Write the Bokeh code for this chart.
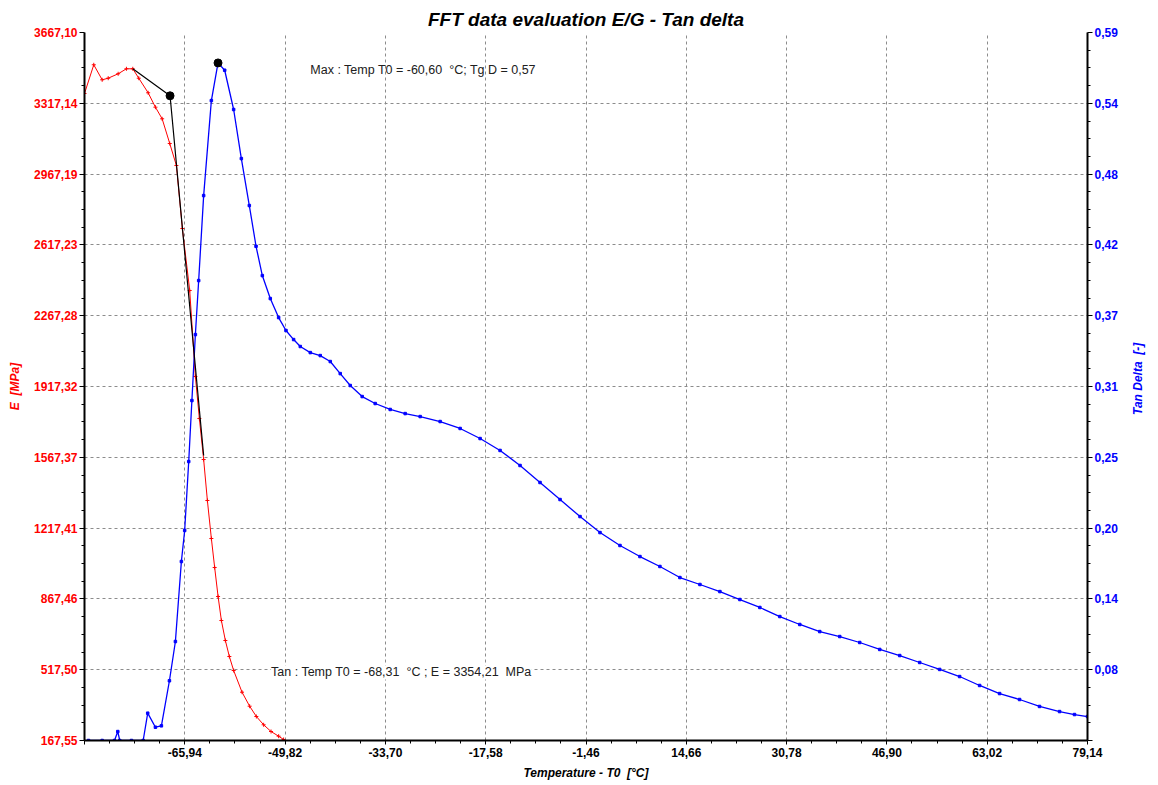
import math
from bokeh.plotting import figure
from bokeh.layouts import row
from bokeh.models import Range1d, LinearAxis, FixedTicker, Label
from bokeh.core.properties import value
from bokeh.embed import file_html
from bokeh.resources import INLINE

# ---------------- data ----------------
e_temp = [-82.06, -80.57, -79.22, -78.25, -76.65, -75.32, -74.30, -73.34, -71.83,
          -70.66, -69.58, -68.36, -67.29, -66.33, -65.15, -64.24, -63.60, -62.91,
          -62.31, -61.67, -61.14, -60.59, -60.06, -59.42, -58.78, -58.09, -56.74,
          -55.52, -54.44, -53.27, -52.08, -50.86, -50.06]
e_modulus = [3365.6, 3507.5, 3433.3, 3441.2, 3463.0, 3487.7, 3487.7, 3441.2, 3369.1,
             3297.9, 3240.5, 3118.5, 3009.7, 2698.3, 2391.9, 1966.8, 1759.2, 1556.5,
             1353.9, 1166.0, 1022.7, 879.3, 760.7, 661.8, 582.8, 513.6, 406.3,
             337.1, 286.2, 245.2, 212.0, 188.8, 172.5]

td_temp = [-81.42, -79.22, -77.24, -76.71, -76.39, -74.51, -72.63, -71.90, -70.66,
           -69.70, -68.41, -67.45, -66.49, -65.96, -65.31, -64.80, -64.24, -63.71,
           -62.91, -61.67, -60.60, -59.53, -58.09, -56.85, -55.57, -54.49, -53.48,
           -52.20, -50.86, -49.68, -48.45, -47.38, -45.77, -44.17, -42.56, -40.96,
           -39.35, -37.43, -35.34, -32.93, -30.52, -28.11, -24.90, -21.69, -18.48,
           -15.27, -12.06, -8.85, -5.63, -2.42, 0.79, 4.00, 7.21, 10.42, 13.63,
           16.85, 20.06, 23.27, 26.48, 29.69, 32.90, 36.11, 39.32, 42.53, 45.75,
           48.96, 52.17, 55.38, 58.59, 61.80, 65.01, 68.22, 71.43, 74.65, 77.05, 79.14]
tan_delta = [0.0245, 0.0245, 0.0245, 0.0317, 0.0245, 0.0245, 0.0245, 0.0465, 0.0352,
             0.0363, 0.0726, 0.1042, 0.1686, 0.1936, 0.2491, 0.2982, 0.3513, 0.3948,
             0.4632, 0.5397, 0.5700, 0.5641, 0.5325, 0.4930, 0.4552, 0.4224, 0.3988,
             0.3803, 0.3650, 0.3546, 0.3473, 0.3417, 0.3368, 0.3344, 0.3296, 0.3199,
             0.3103, 0.3014, 0.2958, 0.2910, 0.2877, 0.2853, 0.2813, 0.2757, 0.2676,
             0.2580, 0.2459, 0.2322, 0.2185, 0.2048, 0.1919, 0.1815, 0.1726, 0.1646,
             0.1557, 0.1501, 0.1444, 0.1380, 0.1316, 0.1243, 0.1179, 0.1122, 0.1082,
             0.1034, 0.0978, 0.0929, 0.0873, 0.0817, 0.0760, 0.0688, 0.0623, 0.0575,
             0.0519, 0.0478, 0.0454, 0.0438]

tangent_temp = [-74.30, -68.31, -62.91]
tangent_e = [3487.7, 3354.21, 1576.3]

max_temp = [-60.60]
max_tan = [0.57]
tan_pt_temp = [-68.31]
tan_pt_e = [3354.21]

x_ticks = [-82.06, -65.94, -49.82, -33.70, -17.58, -1.46, 14.66, 30.78, 46.90, 63.02, 79.14]
x_tick_labels = ["", "-65,94", "-49,82", "-33,70", "-17,58", "-1,46", "14,66",
                 "30,78", "46,90", "63,02", "79,14"]
e_ticks = [167.55, 517.50, 867.46, 1217.41, 1567.37, 1917.32, 2267.28, 2617.23,
           2967.19, 3317.14, 3667.10]
e_tick_labels = ["167,55", "517,50", "867,46", "1217,41", "1567,37", "1917,32",
                 "2267,28", "2617,23", "2967,19", "3317,14", "3667,10"]
td_ticks = [0.0245, 0.0815, 0.1385, 0.1955, 0.2525, 0.3095, 0.3665, 0.4235,
            0.4805, 0.5375, 0.5945]
td_tick_labels = ["", "0,08", "0,14", "0,20", "0,25", "0,31", "0,37", "0,42",
                  "0,48", "0,54", "0,59"]

title_text = "FFT data evaluation E/G - Tan delta"
max_text = "Max : Temp T0 = -60,60 \u00a0\u00b0C; Tg D = 0,57"
tan_text = "Tan : Temp T0 = -68,31 \u00a0\u00b0C ; E = 3354,21 \u00a0MPa"
x_label = "Temperature - T0 \u00a0[\u00b0C]"
e_label = "E \u00a0[MPa]"
td_label = "Tan Delta \u00a0[-]"

FONT = "Liberation Sans"
RED = "#ff0000"
BLUE = "#0000ff"


def minors(ticks, n=4):
    out = []
    for a, b in zip(ticks[:-1], ticks[1:]):
        for k in range(1, n):
            out.append(a + (b - a) * k / n)
    return out


p = figure(width=1120, height=785,
           x_range=Range1d(x_ticks[0], x_ticks[-1]),
           y_range=Range1d(e_ticks[0], e_ticks[-1]),
           output_backend="svg", toolbar_location=None,
           min_border_left=84, min_border_right=31,
           min_border_top=32, min_border_bottom=45)
p.extra_y_ranges = {"td": Range1d(td_ticks[0], td_ticks[-1])}
p.outline_line_color = None
p.background_fill_color = "white"

p.title.text = title_text
p.title.text_font = FONT
p.title.text_font_size = "19px"
p.title.text_font_style = "bold italic"
p.title.text_color = "black"
p.title.align = "center"
p.title.standoff = 6

# axes
xa = p.xaxis[0]
xa.ticker = FixedTicker(ticks=x_ticks, minor_ticks=minors(x_ticks))
xa.major_label_overrides = {t: l for t, l in zip(x_ticks, x_tick_labels)}
xa.axis_label = x_label

ya = p.yaxis[0]
ya.ticker = FixedTicker(ticks=e_ticks, minor_ticks=minors(e_ticks))
ya.major_label_overrides = {t: l for t, l in zip(e_ticks, e_tick_labels)}
ya.axis_label = e_label

ra = LinearAxis(y_range_name="td")
ra.ticker = FixedTicker(ticks=td_ticks, minor_ticks=minors(td_ticks))
ra.major_label_overrides = {t: l for t, l in zip(td_ticks, td_tick_labels)}
p.add_layout(ra, "right")

for ax, col in ((xa, "black"), (ya, RED), (ra, BLUE)):
    ax.axis_line_color = "black"
    ax.axis_line_width = 2
    ax.major_tick_line_color = "black"
    ax.minor_tick_line_color = "black"
    ax.major_tick_in = 0
    ax.minor_tick_in = 0
    ax.major_tick_out = 5
    ax.minor_tick_out = 3
    ax.major_label_text_font = FONT
    ax.major_label_text_font_size = "12px"
    ax.major_label_text_font_style = "bold"
    ax.major_label_text_color = col
    ax.major_label_standoff = 2
    ax.axis_label_text_font = FONT
    ax.axis_label_text_font_size = "12px"
    ax.axis_label_text_font_style = "bold italic"
    ax.axis_label_text_color = col
    ax.axis_label_standoff = 9
xa.major_tick_out = 4
xa.major_label_standoff = 3
xa.axis_label_standoff = 6

# grid
for g in (p.xgrid[0], p.ygrid[0]):
    g.grid_line_color = "#8c8c8c"
    g.grid_line_dash = "3 3"
    g.grid_line_width = 1
p.xgrid[0].ticker = FixedTicker(ticks=x_ticks)
p.ygrid[0].ticker = FixedTicker(ticks=e_ticks)

# E curve (red)
p.line(e_temp, e_modulus, line_color=RED, line_width=1)
p.scatter(e_temp, e_modulus, marker="cross", size=4, line_color=RED, line_width=1)

# Tan delta curve (blue)
p.line(td_temp, tan_delta, line_color=BLUE, line_width=1.3, y_range_name="td")
p.scatter(td_temp, tan_delta, marker="square", size=2.5, line_color=BLUE,
          fill_color=BLUE, y_range_name="td")

# tangent construction (black)
p.line(tangent_temp, tangent_e, line_color="black", line_width=1.2)
p.scatter(tan_pt_temp, tan_pt_e, marker="circle", size=8, fill_color="black",
          line_color="black")
p.scatter(max_temp, max_tan, marker="circle", size=8, fill_color="black",
          line_color="black", y_range_name="td")

# annotations
p.add_layout(Label(x=-45.77, y=3484.0, text=max_text, text_font=FONT,
                   text_font_size="12.5px", text_color="#202020",
                   text_baseline="middle"))
p.add_layout(Label(x=-52.08, y=503.7, text=tan_text, text_font=FONT,
                   text_font_size="12.5px", text_color="#202020",
                   text_baseline="middle", background_fill_color="white"))

# narrow strip on the right carrying the right axis title (bottom-to-top)
s = figure(width=38, height=785, x_range=Range1d(0, 38), y_range=Range1d(0, 785),
           output_backend="svg", toolbar_location=None,
           min_border_left=0, min_border_right=0, min_border_top=0,
           min_border_bottom=0)
s.axis.visible = False
s.grid.visible = False
s.outline_line_color = None
s.background_fill_color = "white"
s.border_fill_color = "white"
s.text(x=[17], y=[401], text=[td_label], angle=math.pi / 2,
       text_align="center", text_baseline="middle", text_font=value(FONT),
       text_font_size="12px", text_font_style="bold italic", text_color=BLUE)

layout = row(p, s)
open("out.html", "w").write(file_html(layout, INLINE))
